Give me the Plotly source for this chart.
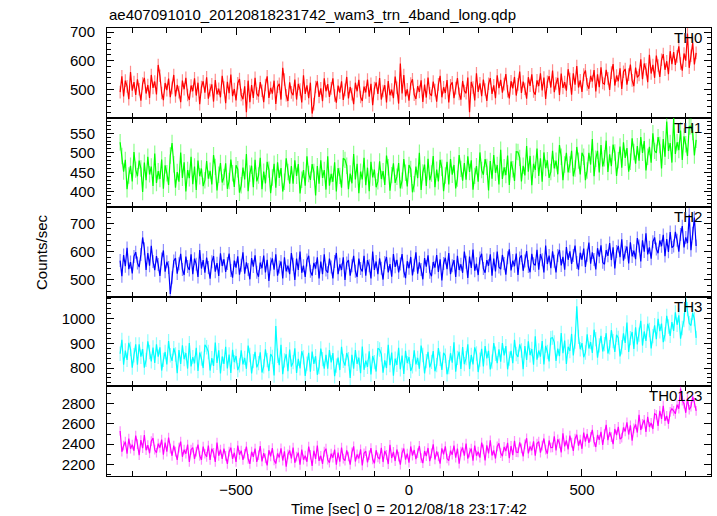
import plotly.graph_objects as go
from plotly.subplots import make_subplots

# Time bins (sec, relative to 2012/08/18 23:17:42)
t_start = -835
t_step = 5

th0 = [
    490, 545, 475, 530, 510, 465, 560, 495, 525, 480,
    535, 500, 460, 520, 540, 485, 515, 470, 550, 505,
    527, 482, 585, 547, 487, 462, 522, 497, 537, 472,
    505, 550, 475, 515, 490, 455, 530, 500, 540, 480,
    463, 513, 493, 538, 478, 523, 448, 508, 528, 488,
    542, 467, 497, 517, 457, 532, 482, 502, 472, 547,
    506, 451, 526, 486, 551, 476, 501, 461, 521, 536,
    480, 465, 510, 420, 530, 455, 515, 470, 540, 485,
    475, 525, 495, 455, 515, 545, 470, 505, 485, 530,
    449, 509, 519, 464, 575, 534, 479, 459, 524, 489,
    479, 534, 464, 519, 499, 454, 549, 484, 514, 469,
    523, 415, 448, 508, 528, 473, 503, 458, 538, 493,
    518, 473, 503, 538, 478, 453, 513, 488, 528, 463,
    498, 543, 468, 508, 483, 448, 523, 493, 533, 473,
    459, 509, 489, 534, 474, 519, 444, 504, 524, 484,
    539, 464, 494, 514, 454, 529, 479, 499, 469, 544,
    505, 450, 590, 485, 550, 475, 500, 460, 520, 535,
    481, 466, 511, 491, 531, 456, 516, 471, 541, 486,
    477, 527, 497, 457, 517, 547, 472, 507, 487, 532,
    454, 514, 524, 469, 504, 539, 484, 464, 529, 494,
    486, 541, 420, 526, 506, 461, 556, 491, 521, 476,
    534, 499, 459, 519, 539, 484, 514, 469, 549, 504,
    533, 488, 518, 553, 493, 468, 528, 503, 543, 478,
    517, 562, 487, 527, 502, 467, 542, 512, 552, 492,
    481, 531, 511, 556, 496, 541, 466, 526, 546, 506,
    565, 490, 520, 540, 480, 555, 505, 525, 495, 570,
    536, 481, 556, 516, 581, 506, 531, 491, 551, 566,
    517, 502, 547, 527, 567, 492, 552, 507, 577, 522,
    518, 568, 538, 498, 558, 588, 513, 548, 528, 573,
    501, 561, 571, 516, 551, 586, 531, 511, 576, 541,
    550, 605, 535, 590, 570, 525, 620, 555, 585, 540,
    618, 583, 543, 603, 623, 568, 598, 553, 633, 588,
    630, 585, 615, 650, 590, 565, 625, 600, 695, 575,
    617, 662, 587, 627,
]

th1 = [
    527, 492, 452, 482, 407, 442, 467, 427, 502, 457,
    440, 480, 460, 400, 475, 430, 490, 445, 465, 415,
    498, 423, 453, 433, 483, 408, 468, 448, 418, 493,
    525, 471, 411, 451, 426, 501, 436, 476, 401, 456,
    435, 490, 420, 465, 405, 480, 440, 460, 415, 430,
    479, 434, 454, 419, 494, 464, 404, 444, 474, 424,
    438, 473, 408, 428, 483, 448, 413, 468, 458, 398,
    417, 462, 432, 497, 402, 447, 467, 412, 482, 427,
    442, 487, 407, 452, 422, 477, 457, 397, 437, 472,
    411, 476, 436, 461, 401, 426, 486, 451, 421, 466,
    421, 481, 441, 471, 396, 431, 456, 416, 491, 446,
    431, 471, 451, 391, 466, 421, 481, 436, 456, 406,
    491, 416, 446, 426, 476, 401, 461, 441, 411, 486,
    482, 467, 407, 447, 422, 497, 432, 472, 397, 452,
    432, 487, 417, 462, 402, 477, 437, 457, 412, 427,
    478, 433, 453, 418, 493, 463, 403, 443, 473, 423,
    439, 474, 409, 429, 484, 449, 414, 469, 459, 399,
    420, 465, 435, 500, 405, 450, 470, 415, 485, 430,
    447, 492, 412, 457, 427, 482, 462, 402, 442, 477,
    419, 484, 444, 469, 409, 434, 494, 459, 429, 474,
    431, 491, 451, 481, 406, 441, 466, 426, 501, 456,
    444, 484, 464, 404, 479, 434, 494, 449, 469, 419,
    508, 433, 463, 443, 493, 418, 478, 458, 428, 503,
    502, 487, 427, 467, 442, 517, 452, 492, 417, 472,
    456, 511, 441, 486, 426, 501, 461, 481, 436, 451,
    505, 460, 480, 445, 520, 490, 430, 470, 500, 450,
    470, 505, 440, 460, 515, 480, 445, 500, 490, 430,
    455, 500, 470, 535, 440, 485, 505, 450, 520, 465,
    486, 531, 451, 496, 466, 521, 501, 441, 481, 516,
    462, 527, 487, 512, 452, 477, 537, 502, 472, 517,
    480, 540, 500, 530, 455, 490, 515, 475, 550, 505,
    500, 540, 520, 460, 535, 490, 580, 505, 525, 475,
    588, 497, 527, 507, 557, 482, 542, 522, 492, 567,
    568, 553, 493, 533,
]

th2 = [
    568, 513, 588, 548, 613, 538, 563, 523, 583, 598,
    560, 545, 590, 650, 610, 535, 595, 550, 620, 565,
    534, 584, 554, 514, 574, 604, 529, 564, 544, 450,
    507, 567, 577, 522, 557, 592, 537, 517, 582, 547,
    535, 590, 520, 575, 555, 510, 605, 540, 570, 525,
    579, 544, 504, 564, 584, 529, 559, 514, 594, 549,
    573, 528, 558, 593, 533, 508, 568, 543, 583, 518,
    552, 597, 522, 562, 537, 502, 577, 547, 587, 527,
    511, 561, 541, 586, 526, 571, 496, 556, 576, 536,
    590, 515, 545, 565, 505, 580, 530, 550, 520, 595,
    555, 500, 575, 535, 600, 525, 550, 510, 570, 585,
    530, 515, 560, 540, 580, 505, 565, 520, 590, 535,
    525, 575, 545, 505, 565, 595, 520, 555, 535, 580,
    500, 560, 570, 515, 550, 585, 530, 510, 575, 540,
    530, 585, 515, 570, 550, 505, 600, 535, 565, 520,
    576, 541, 501, 561, 581, 526, 556, 511, 591, 546,
    571, 526, 556, 591, 531, 506, 566, 541, 581, 516,
    552, 597, 522, 562, 537, 502, 577, 547, 587, 527,
    513, 563, 543, 588, 528, 573, 498, 558, 578, 538,
    595, 520, 550, 570, 510, 585, 535, 555, 525, 600,
    562, 507, 582, 542, 607, 532, 557, 517, 577, 592,
    540, 525, 570, 550, 590, 515, 575, 530, 600, 545,
    538, 588, 558, 518, 578, 608, 533, 568, 548, 593,
    517, 577, 587, 532, 567, 602, 547, 527, 592, 557,
    551, 606, 536, 591, 571, 526, 621, 556, 586, 541,
    601, 566, 526, 586, 606, 551, 581, 536, 616, 571,
    601, 556, 586, 621, 561, 536, 596, 571, 611, 546,
    587, 632, 557, 597, 572, 537, 612, 582, 622, 562,
    555, 605, 585, 630, 570, 615, 540, 600, 620, 580,
    643, 568, 598, 618, 558, 633, 583, 603, 573, 648,
    620, 565, 640, 600, 665, 590, 615, 575, 635, 650,
    609, 594, 639, 619, 659, 584, 644, 599, 669, 614,
    620, 670, 640, 600, 660, 690, 615, 650, 630, 730,
    605, 665, 720, 620,
]

th3 = [
    858, 914, 814, 871, 833, 902, 877, 802, 852, 896,
    814, 896, 846, 877, 802, 833, 908, 865, 827, 883,
    821, 896, 846, 884, 790, 833, 865, 815, 909, 852,
    829, 880, 855, 779, 873, 817, 892, 836, 861, 798,
    901, 807, 844, 819, 882, 788, 863, 838, 800, 894,
    884, 865, 790, 840, 809, 903, 821, 872, 778, 847,
    817, 886, 799, 855, 780, 874, 824, 849, 792, 811,
    872, 815, 841, 797, 891, 853, 778, 828, 866, 803,
    820, 864, 782, 807, 876, 832, 788, 857, 845, 770,
    970, 850, 812, 894, 775, 831, 856, 787, 875, 806,
    824, 880, 780, 837, 799, 868, 843, 768, 818, 862,
    785, 867, 817, 848, 773, 804, 879, 836, 798, 854,
    798, 873, 823, 861, 767, 810, 842, 792, 886, 829,
    810, 861, 836, 760, 854, 798, 873, 817, 842, 779,
    887, 793, 830, 805, 868, 774, 849, 824, 786, 880,
    875, 856, 781, 831, 800, 894, 812, 863, 769, 838,
    813, 882, 795, 851, 776, 870, 820, 845, 788, 807,
    872, 815, 841, 797, 891, 853, 778, 828, 866, 803,
    825, 869, 787, 812, 881, 837, 793, 862, 850, 775,
    804, 860, 822, 904, 785, 841, 866, 797, 885, 816,
    840, 896, 796, 853, 815, 884, 859, 784, 834, 878,
    807, 889, 839, 870, 795, 826, 901, 858, 820, 876,
    826, 901, 851, 889, 795, 838, 870, 820, 914, 857,
    845, 896, 871, 795, 889, 833, 908, 852, 877, 814,
    928, 834, 871, 846, 909, 815, 890, 865, 827, 921,
    923, 904, 829, 879, 848, 942, 860, 911, 817, 886,
    869, 938, 851, 907, 1050, 926, 876, 901, 844, 863,
    936, 879, 905, 861, 955, 917, 842, 892, 930, 867,
    897, 941, 859, 884, 953, 909, 865, 934, 922, 847,
    884, 940, 902, 984, 865, 921, 946, 877, 965, 896,
    935, 991, 891, 948, 910, 979, 954, 879, 929, 973,
    917, 999, 949, 980, 905, 936, 1011, 968, 930, 986,
    950, 1025, 975, 1013, 919, 962, 994, 1080, 1038, 981,
    972, 1023, 998, 922,
]

th0123 = [
    2530, 2325, 2385, 2425, 2305, 2455, 2355, 2395, 2335, 2485,
    2400, 2290, 2440, 2360, 2490, 2340, 2390, 2310, 2430, 2460,
    2345, 2315, 2405, 2365, 2445, 2295, 2415, 2325, 2465, 2355,
    2285, 2385, 2325, 2245, 2365, 2425, 2275, 2345, 2305, 2395,
    2225, 2345, 2365, 2255, 2325, 2395, 2285, 2245, 2375, 2305,
    2275, 2385, 2245, 2355, 2315, 2225, 2415, 2285, 2345, 2255,
    2355, 2285, 2205, 2325, 2365, 2255, 2315, 2225, 2385, 2295,
    2335, 2245, 2305, 2375, 2255, 2205, 2325, 2275, 2355, 2225,
    2290, 2380, 2230, 2310, 2260, 2190, 2340, 2280, 2360, 2240,
    2208, 2308, 2268, 2358, 2238, 2328, 2178, 2298, 2338, 2258,
    2366, 2216, 2276, 2316, 2196, 2346, 2246, 2286, 2226, 2376,
    2295, 2185, 2335, 2255, 2385, 2235, 2285, 2205, 2325, 2355,
    2246, 2216, 2306, 2266, 2346, 2196, 2316, 2226, 2366, 2256,
    2238, 2338, 2278, 2198, 2318, 2378, 2228, 2298, 2258, 2348,
    2190, 2310, 2330, 2220, 2290, 2360, 2250, 2210, 2340, 2270,
    2253, 2363, 2223, 2333, 2293, 2203, 2393, 2263, 2323, 2233,
    2347, 2277, 2197, 2317, 2357, 2247, 2307, 2217, 2377, 2287,
    2342, 2252, 2312, 2382, 2262, 2212, 2332, 2282, 2362, 2232,
    2308, 2398, 2248, 2328, 2278, 2208, 2358, 2298, 2378, 2258,
    2236, 2336, 2296, 2386, 2266, 2356, 2206, 2326, 2366, 2286,
    2406, 2256, 2316, 2356, 2236, 2386, 2286, 2326, 2266, 2416,
    2348, 2238, 2388, 2308, 2438, 2288, 2338, 2258, 2378, 2408,
    2312, 2282, 2372, 2332, 2412, 2262, 2382, 2292, 2432, 2322,
    2318, 2418, 2358, 2278, 2398, 2458, 2308, 2378, 2338, 2428,
    2286, 2406, 2426, 2316, 2386, 2456, 2346, 2306, 2436, 2366,
    2368, 2478, 2338, 2448, 2408, 2318, 2508, 2378, 2438, 2348,
    2484, 2414, 2334, 2454, 2494, 2384, 2444, 2354, 2514, 2424,
    2502, 2412, 2472, 2542, 2422, 2372, 2492, 2442, 2522, 2392,
    2500, 2590, 2440, 2520, 2470, 2400, 2550, 2490, 2570, 2450,
    2465, 2565, 2525, 2615, 2495, 2585, 2435, 2555, 2595, 2515,
    2690, 2540, 2600, 2640, 2520, 2670, 2570, 2610, 2550, 2700,
    2690, 2580, 2730, 2650, 2780, 2630, 2680, 2600, 2720, 2750,
    2730, 2700, 2790, 2750, 2950, 2830, 2800, 2710, 2850, 2740,
    2770, 2870, 2810, 2730,
]

# Typical 1-sigma error per bin (counts/sec)
errs = [22, 21, 23, 29, 48]

labels = ["TH0", "TH1", "TH2", "TH3", "TH0123"]
series = [th0, th1, th2, th3, th0123]
colors = ["#ff0000", "#00ff00", "#0000ff", "#00ffff", "#ff00ff"]
light = ["rgba(255,0,0,0.45)", "rgba(0,255,0,0.45)", "rgba(0,0,255,0.45)",
         "rgba(0,255,255,0.45)", "rgba(255,0,255,0.45)"]
y_ranges = [[401, 714], [361, 590], [440, 757], [726, 1088], [2085, 2971]]
y_dticks = [100, 50, 100, 100, 200]
y_minor = [20, 10, 20, 20, 100]
x_range = [-873, 873]

title_text = "ae407091010_20120818231742_wam3_trn_4band_long.qdp"
x_title = "Time [sec] 0 = 2012/08/18 23:17:42"
y_title = "Counts/sec"

FONT = "Liberation Sans, Arial, sans-serif"

fig = make_subplots(rows=5, cols=1, shared_xaxes=True, vertical_spacing=0)

for i, vals in enumerate(series):
    t = [t_start + k * t_step for k in range(len(vals))]
    fig.add_trace(go.Scatter(
        x=t, y=vals, mode="lines",
        line=dict(color=colors[i], width=1.2),
        error_y=dict(type="constant", value=errs[i], color=light[i],
                     thickness=1.2, width=0),
        showlegend=False, hoverinfo="skip",
    ), row=i + 1, col=1)
    fig.add_annotation(
        text=labels[i], xref="x domain" if i == 0 else f"x{i+1} domain",
        yref="y domain" if i == 0 else f"y{i+1} domain",
        x=1, y=1, xanchor="right", yanchor="top", xshift=-7, yshift=1,
        showarrow=False, font=dict(family=FONT, size=15, color="black"),
    )
    fig.update_yaxes(
        range=y_ranges[i], dtick=y_dticks[i], tick0=0,
        ticks="inside", ticklen=7, tickcolor="black", tickwidth=1,
        minor=dict(dtick=y_minor[i], ticks="inside", ticklen=4,
                   tickcolor="black", tickwidth=1, showgrid=False),
        showline=True, linecolor="black", linewidth=1, mirror="allticks",
        showgrid=False, zeroline=False, ticklabelstandoff=8,
        tickfont=dict(family=FONT, size=15, color="black"),
        row=i + 1, col=1,
    )
    fig.update_xaxes(
        range=x_range, dtick=500, tick0=0,
        ticks="inside", ticklen=7, tickcolor="black", tickwidth=1,
        minor=dict(dtick=100, ticks="inside", ticklen=5,
                   tickcolor="black", tickwidth=1, showgrid=False),
        showline=True, linecolor="black", linewidth=1, mirror="allticks",
        showgrid=False, zeroline=False,
        showticklabels=(i == 4),
        tickfont=dict(family=FONT, size=15, color="black"),
        row=i + 1, col=1,
    )

fig.add_annotation(text=title_text, xref="paper", yref="paper", x=0, y=1,
                   xanchor="left", yanchor="bottom", yshift=3, showarrow=False,
                   font=dict(family=FONT, size=15, color="black"))
fig.add_annotation(text=x_title, xref="paper", yref="paper", x=0.5, y=0,
                   xanchor="center", yanchor="middle", yshift=-32,
                   showarrow=False, font=dict(family=FONT, size=15, color="black"))
fig.add_annotation(text=y_title, xref="paper", yref="paper", x=0, y=0.5,
                   xanchor="center", yanchor="middle", xshift=-66, textangle=-90,
                   showarrow=False, font=dict(family=FONT, size=15, color="black"))

fig.update_layout(
    width=717, height=516,
    margin=dict(l=107, r=6, t=28, b=40),
    paper_bgcolor="white", plot_bgcolor="white",
    font=dict(family=FONT, size=15, color="black"),
)

fig.write_html("out.html",
               config={"displayModeBar": False, "staticPlot": True},
               post_script="document.body.style.margin='0';"
                           "document.body.style.overflow='hidden';")
